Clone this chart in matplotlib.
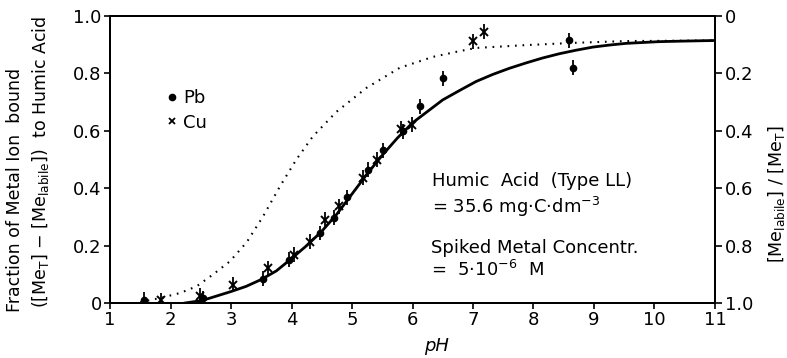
import matplotlib
matplotlib.use('Agg')
import matplotlib.pyplot as plt
from matplotlib.lines import Line2D

# measured points, Pb and Cu
pb_x = [1.56, 2.54, 3.53, 3.96, 4.47, 4.71, 4.92, 5.27, 5.52, 5.85, 6.13, 6.51, 8.58, 8.66]
pb_y = [0.012, 0.017, 0.084, 0.151, 0.244, 0.297, 0.369, 0.465, 0.532, 0.599, 0.685, 0.783, 0.915, 0.82]
pb_err = 0.026

cu_x = [1.84, 2.49, 3.04, 3.61, 4.04, 4.30, 4.56, 4.78, 5.18, 5.41, 5.81, 5.99, 7.0, 7.18]
cu_y = [0.01, 0.026, 0.064, 0.122, 0.169, 0.213, 0.291, 0.337, 0.436, 0.5, 0.607, 0.622, 0.913, 0.945]
cu_err = 0.026

# model curves
sol_x = [2.24, 2.5, 2.65, 3.0, 3.25, 3.5, 3.75, 4.0, 4.25, 4.5, 4.75, 5.0, 5.25, 5.5, 5.75,
         6.0, 6.25, 6.5, 6.78, 7.05, 7.33, 7.6, 7.88, 8.15, 8.43, 8.7, 8.98, 9.25, 9.53,
         10.08, 10.5, 11.0]
sol_y = [0.0, 0.008, 0.017, 0.04, 0.058, 0.082, 0.112, 0.155, 0.2, 0.25, 0.31, 0.38, 0.45,
         0.515, 0.575, 0.628, 0.668, 0.708, 0.741, 0.772, 0.797, 0.818, 0.837, 0.854, 0.869,
         0.881, 0.892, 0.899, 0.905, 0.911, 0.913, 0.915]

dot_x = [1.5, 1.66, 1.88, 2.16, 2.43, 2.7, 2.98, 3.26, 3.53, 3.81, 4.08, 4.35, 4.74, 5.24,
         5.79, 6.34, 6.78, 7.05, 7.88, 8.7, 9.53, 10.3, 11.0]
dot_y = [0.003, 0.01, 0.02, 0.035, 0.058, 0.099, 0.145, 0.212, 0.302, 0.407, 0.5, 0.58, 0.666,
         0.75, 0.82, 0.858, 0.878, 0.889, 0.899, 0.907, 0.913, 0.914, 0.915]

x_ticks = list(range(1, 12))
y_ticks = [0, 0.2, 0.4, 0.6, 0.8, 1.0]
y_labels = ['0', '0.2', '0.4', '0.6', '0.8', '1.0']

fs = 13
fig = plt.figure(figsize=(7.87, 3.58), dpi=100)
ax = fig.add_axes([0.1398, 0.1536, 0.7687, 0.8014])

ax.plot(sol_x, sol_y, '-', color='black', lw=2.0)
ax.plot(dot_x, dot_y, color='black', lw=1.5, linestyle=(0, (0.8, 2.8)))

ax.errorbar(pb_x, pb_y, yerr=pb_err, fmt='o', color='black', ms=4.5,
            elinewidth=1.3, capsize=0)
ax.errorbar(cu_x, cu_y, yerr=cu_err, fmt='x', color='black', ms=5.5, mew=1.4,
            elinewidth=1.3, capsize=0)

ax.set_xlim(1, 11)
ax.set_ylim(0, 1.0)
ax.set_xticks(x_ticks)
ax.set_yticks(y_ticks)
ax.set_yticklabels(y_labels)
ax.tick_params(direction='out', length=4, width=1.2, labelsize=fs, pad=2)
for s in ax.spines.values():
    s.set_linewidth(1.4)

ax2 = ax.twinx()
ax2.set_ylim(1.0, 0)
ax2.set_yticks(y_ticks)
ax2.set_yticklabels(y_labels)
ax2.tick_params(direction='out', length=5, width=1.2, labelsize=fs, pad=2)
for s in ax2.spines.values():
    s.set_linewidth(1.4)

ax.text(6.4, -0.15, 'pH', fontsize=fs, fontstyle='italic', ha='center', va='center')

# legend
handles = [Line2D([], [], marker='o', ls='none', color='black', ms=4.5),
           Line2D([], [], marker='x', ls='none', color='black', ms=4.5, mew=1.3)]
ax.legend(handles, ['Pb', 'Cu'], frameon=False, loc='upper left',
          bbox_to_anchor=(0.095, 0.745), borderpad=0, borderaxespad=0,
          handlelength=0.5, handletextpad=0.35, labelspacing=0.35, fontsize=fs)

ax.text(6.33, 0.425, 'Humic  Acid  (Type LL)', fontsize=fs, ha='left', va='center')
ax.text(6.33, 0.335, '= 35.6 mg$\\cdot$C$\\cdot$dm$^{-3}$', fontsize=fs, ha='left', va='center')
ax.text(6.3, 0.19, 'Spiked Metal Concentr.', fontsize=fs, ha='left', va='center')
ax.text(6.3, 0.114, '=  5$\\cdot$10$^{-6}$  M', fontsize=fs, ha='left', va='center')

fig.text(0.019, 0.469, 'Fraction of Metal Ion  bound', fontsize=12.5,
         rotation=90, ha='center', va='center')
fig.text(0.052, 0.546, '([Me$_\\mathrm{T}$] $-$ [Me$_\\mathrm{labile}$])  to Humic Acid',
         fontsize=12.5, rotation=90, ha='center', va='center')
fig.text(0.987, 0.458, '[Me$_\\mathrm{labile}$] / [Me$_\\mathrm{T}$]', fontsize=12.5,
         rotation=90, ha='center', va='center')

fig.savefig('out.png', dpi=100)
